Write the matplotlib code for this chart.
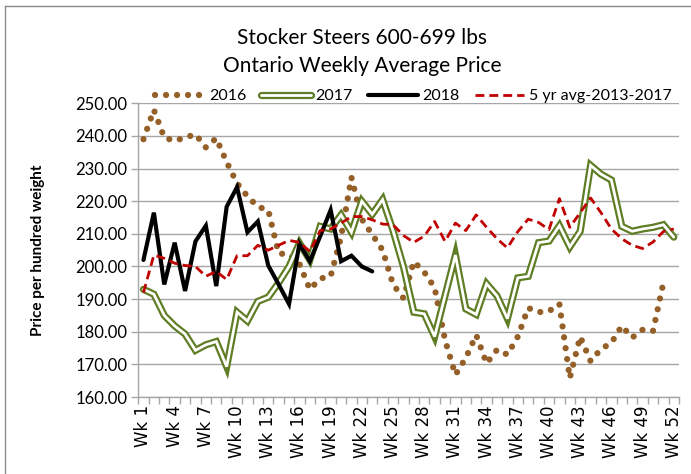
import matplotlib
matplotlib.use("Agg")
import matplotlib.pyplot as plt
import matplotlib.patheffects as pe
from matplotlib.lines import Line2D
import numpy as np

weeks = [f"Wk {i}" for i in range(1, 53)]
tick_labels = [f"Wk {i}" for i in range(1, 53, 3)]
y_ticks = [160, 170, 180, 190, 200, 210, 220, 230, 240, 250]

s2016 = [239, 248, 239.5, 238.5, 239.5, 240.5, 236.5, 239.3, 232, 225.5,
         221.5, 218.3, 217.3, 204, 203.7, 200.8, 193, 196.3, 197, 209,
         227.3, 214.5, 209.8, 205, 194.5, 190.3, 201.5, 198.3, 193.5, 177.5,
         166.8, 172, 179, 170.3, 174.5, 173, 178.5, 187.3, 186, 186.3,
         188.5, 165.8, 178.5, 171, 174.7, 176.6, 181.8, 178.2, 180.6, 180.2,
         195]
s2017 = [193, 191.5, 185, 181.8, 179.3, 174.3, 176, 177, 169.3, 186,
         183.3, 189.3, 190.6, 195, 200, 207.2, 202, 212.3, 211.5, 215.8,
         210.5, 220, 216, 220.5, 211, 200, 186, 185.5, 178.5, 191,
         203.5, 187, 185.3, 194.7, 191, 184, 196.5, 197, 207.3, 207.8,
         212.5, 206, 210.8, 231, 228.3, 226.5, 212.3, 210.8, 211.5, 212,
         212.8, 209]
s2018 = [202, 216.5, 194.5, 207.3, 192.5, 207.7, 212.5, 194, 218.3, 224.3,
         210.5, 213.8, 200.3, 194.5, 188.5, 207, 201.6, 209.3, 217.3, 201.6,
         203.3, 200, 198.5]
s5yr = [192, 203.5, 202.5, 201, 200.3, 200, 197, 198.5, 196, 203.3,
        203.3, 206.5, 205, 206.5, 208, 207.4, 204.6, 211, 211.5, 213.3,
        215.3, 215.3, 214.3, 213, 212.8, 209.5, 207.4, 209.3, 213.8, 207.7,
        213.3, 211, 215.8, 212, 208.5, 205.7, 210.7, 214.5, 213.5, 211.3,
        220.8, 212, 216.5, 221, 216.5, 211.5, 208.5, 206.5, 205.5, 207.5,
        210.7, 211.5]

c2016 = "#946028"
c2017 = "#5f7d24"
c2018 = "#000000"
c5yr = "#c00000"
grid_c = "#a6a6a6"
txt_font = ["Lato", "DejaVu Sans"]
dot_style = (0, (0.01, 1.75))
dash_style = (0, (3.2, 1.8))
double_fx = [pe.Stroke(linewidth=5.2, foreground=c2017), pe.Normal()]

fig = plt.figure(figsize=(6.91, 4.74), dpi=100)
ax = fig.add_axes([0.2001, 0.1624, 0.7825, 0.6196])

x = np.arange(len(weeks))

l16, = ax.plot(x[:len(s2016)], s2016, color=c2016, lw=4.5, linestyle=dot_style,
               dash_capstyle="round", zorder=3, label="2016")
l17, = ax.plot(x[:len(s2017)], s2017, color="white", lw=2.0, solid_joinstyle="miter",
               solid_capstyle="round", path_effects=double_fx, zorder=4, label="2017")
l18, = ax.plot(x[:len(s2018)], s2018, color=c2018, lw=3.0, solid_joinstyle="miter",
               solid_capstyle="round", zorder=5, label="2018")
l5, = ax.plot(x, s5yr, color=c5yr, lw=2.0, linestyle=dash_style, zorder=6,
              label="5 yr avg-2013-2017")

ax.set_xlim(-0.5, len(weeks) - 0.5)
ax.set_ylim(160, 250)
ax.set_yticks(y_ticks)
ax.set_yticklabels([f"{v:.2f}" for v in y_ticks], fontfamily=txt_font, fontsize=12)
ax.yaxis.grid(True, color=grid_c, lw=1.0)
ax.set_axisbelow(True)

ax.set_xticks([weeks.index(t) for t in tick_labels])
ax.set_xticklabels(tick_labels, rotation=90, fontfamily="DejaVu Sans", fontsize=12)
ax.set_xticks(np.arange(-0.5, len(weeks)), minor=True)
ax.tick_params(axis="x", which="major", length=0, pad=6)
ax.tick_params(axis="x", which="minor", length=5, color=grid_c, width=1)
ax.tick_params(axis="y", length=5, color=grid_c, width=1, pad=3)

for s in ["top", "right"]:
    ax.spines[s].set_visible(False)
for s in ["left", "bottom"]:
    ax.spines[s].set_color(grid_c)
    ax.spines[s].set_linewidth(1.0)

ax.set_ylabel("Price per hundred weight", fontfamily=txt_font, fontsize=11,
              fontweight="bold", labelpad=22)

fig.text(0.524, 1 - 38 / 474, "Stocker Steers 600-699 lbs", ha="center", va="center",
         fontfamily=txt_font, fontsize=15)
fig.text(0.524, 1 - 66 / 474, "Ontario Weekly Average Price", ha="center", va="center",
         fontfamily=txt_font, fontsize=15)

fig.legend([l16, l17, l18, l5], ["2016", "2017", "2018", "5 yr avg-2013-2017"],
           loc="center", bbox_to_anchor=(0.598, 1 - 96 / 474), ncol=4, frameon=False,
           prop={"family": txt_font, "size": 11.5}, handlelength=3.1,
           handletextpad=0.3, columnspacing=0.95)

fig.add_artist(Line2D([5 / 691, 5 / 691], [0, 1 - 6 / 474], transform=fig.transFigure,
                      color="#8c8c8c", lw=1))
fig.add_artist(Line2D([5 / 691, 1], [1 - 6 / 474, 1 - 6 / 474], transform=fig.transFigure,
                      color="#8c8c8c", lw=1))

fig.savefig("out.png", dpi=100)
